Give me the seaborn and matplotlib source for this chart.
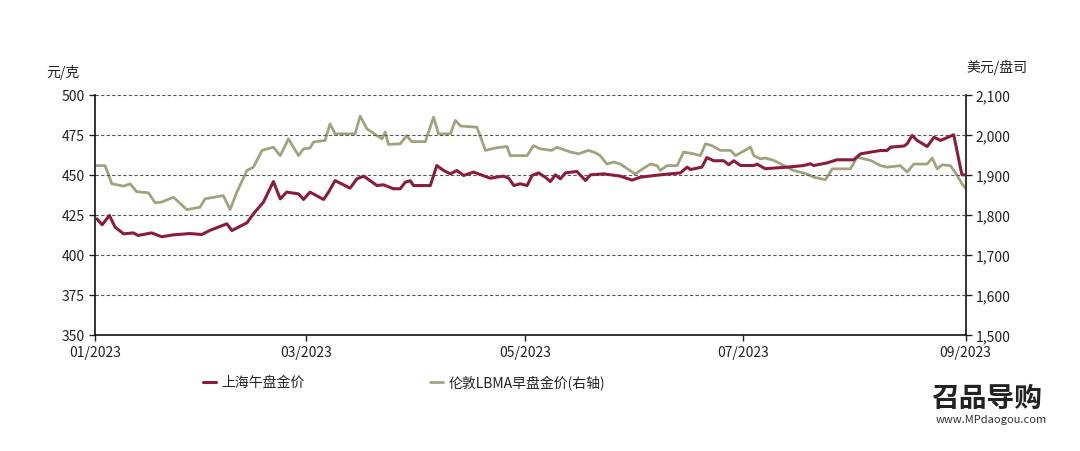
import numpy as np
import pandas as pd
import matplotlib
matplotlib.use("Agg")
import matplotlib.pyplot as plt
import seaborn as sns

sns.set_theme(style="white")
plt.rcParams['font.family'] = ['Noto Sans CJK SC', 'DejaVu Sans']

# day offsets from 2023-01-01
sh_days = [0.5, 2, 4, 5.6, 8, 10.7, 12, 15.8, 18.6, 21.9, 26.5, 29.8, 32, 36.8, 38.2, 42.4, 44.2, 47, 49.8, 51.7,
           53.5, 56.8, 58.2, 60, 63.8, 65.2, 67, 71.2, 73.1, 75, 78.7, 80.5, 83.3, 85.2, 86.6, 88, 88.9, 93.6, 95.4,
           97.3, 99.2, 101, 102.9, 105.7, 110.3, 114, 115.5, 116.9,
           118.7, 120.6, 122, 123.8, 125.7, 127.1, 128.5, 129.9, 131.3, 134.5, 136.9, 138.3, 142, 146.6, 149.9,
           152.2, 157.8, 163.4, 165.3, 166.2, 169.4, 170.8, 172.7, 175.5, 176.9, 178.3, 180.2, 183.9, 184.8, 187.1,
           189.5, 193.2, 197.8, 199.7, 200.6, 204.4, 207.1, 211.8, 213.7, 216.5, 219.3, 221.1, 222.1, 225.8, 226.7,
           228.1, 229.5, 232.3, 234.2, 236, 239.7, 242, 244.4]
sh_vals = [422.5, 418.8, 424.6, 417.3, 413.1, 413.7, 412.1, 413.7, 411.3, 412.5, 413.3, 412.7, 415.2, 419.4, 415.2,
           420, 425.6, 432.9, 445.8, 435, 439.2, 438.1, 434.6, 439.2, 434.6, 439.2, 446.4, 441.7, 447.5, 449.2, 443.3,
           443.8, 441.3, 441.3, 445.4, 446.3, 443.3, 443.3, 455.8, 452.7, 450.6, 452.7, 449.6, 451.7, 447.9, 449.2,
           447.9, 443.3,
           444.4, 443.3, 449.6, 451.2, 448.5, 445.8, 450, 447.5, 451.2, 452.1, 446.5, 450, 450.6, 449.2, 446.7,
           448.5, 450, 451.2, 454.8, 453.3, 454.8, 460.8, 458.8, 458.8, 456.3, 458.8, 455.8, 455.8, 456.7, 453.8,
           454.2, 454.8, 455.8, 456.9, 455.8, 457.5, 459.4, 459.4, 463.1, 464.2, 465.2, 465.2, 467.3, 468, 469.4,
           474.6, 471.5, 467.7, 473.5, 471.5, 475, 450, 450]

lb_days = [0.5, 2.8, 4.7, 8, 9.8, 11.6, 14.9, 16.8, 18.6, 21.9, 25.6, 29.3, 30.7, 35.8, 37.7, 39.6, 42.4, 44.2, 46.6,
           49.8, 51.7, 54, 56.8, 58.2, 60, 61, 64.2, 65.6, 67, 72.6, 74, 75.9, 78.7, 80.1, 81, 81.9, 85.2, 87, 88.4,
           92.2, 94.5, 95.9, 99.2, 100.6, 102, 106.6, 109, 111.7, 115, 115.9,
           118.7, 120.6, 122.4, 124.3, 127.5, 128.9, 132.7, 135, 136.4, 137.8, 139.7, 141, 142.9, 144.8, 146.6,
           150.8, 152.2, 155, 156.9, 157.8, 159.7, 162.5, 164.3, 167.1, 169, 170.4, 172.2, 174.6, 177.4, 178.8,
           183, 183.9, 185.7, 187.1, 189.5, 192.3, 195, 198.8, 200.6, 203.9, 205.8, 210.9, 212.7, 216.5, 219.3,
           221.1, 224.8, 226.7, 228.6, 232.3, 233.7, 235.1, 236.5, 238.8, 240.7, 242, 244.4]
lb_vals = [1923, 1923, 1877.5, 1871.7, 1877.5, 1858, 1855, 1830, 1832, 1844, 1813, 1819, 1840, 1848, 1813, 1857,
           1911, 1919, 1961, 1969, 1948, 1990, 1948, 1965, 1967, 1982, 1986, 2027.5, 2002.5, 2002.5, 2047, 2015,
           1998, 1990, 2007, 1976, 1977.5, 1998, 1983, 1983, 2044, 2002.5, 2002.5, 2036, 2022, 2019, 1961, 1967,
           1971, 1948,
           1948, 1948, 1973, 1965, 1961, 1969, 1957, 1952.5, 1957, 1961, 1955, 1948, 1927, 1932, 1927, 1902, 1911,
           1927, 1923, 1911, 1923, 1923, 1957, 1952.5, 1948, 1977.5, 1973, 1961, 1961, 1948, 1969, 1948, 1940,
           1942, 1936, 1923, 1911, 1902, 1894, 1888, 1915, 1915, 1944, 1936, 1923, 1919, 1923, 1907, 1927, 1927,
           1942, 1915, 1925, 1923, 1898, 1877.5, 1852]

tick_days = [0, 59, 120, 181, 243]
tick_labels = ["01/2023", "03/2023", "05/2023", "07/2023", "09/2023"]

red = "#8a1c3c"
green = "#a3a27e"

fig = plt.figure(figsize=(10.8, 4.52), dpi=100)
ax = fig.add_axes([0.088, 0.257, 0.806, 0.531])
ax2 = ax.twinx()

sns.lineplot(x=sh_days, y=sh_vals, ax=ax, color=red, lw=2.2, zorder=3)
sns.lineplot(x=lb_days, y=lb_vals, ax=ax2, color=green, lw=2.0, zorder=2)
ax.set_zorder(ax2.get_zorder() + 1)
ax.patch.set_visible(False)

ax.set_xlim(0, 243)
ax.set_ylim(350, 500)
ax2.set_ylim(1500, 2100)
ax.set_yticks(range(350, 501, 25))
ax2.set_yticks(range(1500, 2101, 100))
ax2.set_yticklabels([f"{v:,}" for v in range(1500, 2101, 100)])
ax.set_xticks(tick_days)
ax.set_xticklabels(tick_labels)
for y in range(375, 501, 25):
    ax.axhline(y, color="#555555", lw=0.8, ls=(0, (3, 2)), zorder=1)

for a in (ax, ax2):
    a.tick_params(axis="both", labelsize=10, colors="#222222", length=4, width=1, direction="out")
    for s in a.spines.values():
        s.set_visible(False)
ax.spines["left"].set_visible(True)
ax.spines["bottom"].set_visible(True)
ax2.spines["right"].set_visible(True)
for s in (ax.spines["left"], ax.spines["bottom"], ax2.spines["right"]):
    s.set_color("#111111"); s.set_linewidth(1.2)
ax.tick_params(axis="y", left=True)
ax2.tick_params(axis="y", right=True)
ax.tick_params(axis="x", bottom=True)
ax.set_xlabel(""); ax.set_ylabel(""); ax2.set_ylabel("")

fig.text(0.043, 0.83, "元/克", fontsize=10, color="#222222")
fig.text(0.895, 0.84, "美元/盘司", fontsize=10, color="#222222")

fig.add_artist(plt.Line2D([0.188, 0.2], [0.152, 0.152], color=red, lw=2.2))
fig.text(0.205, 0.152, "上海午盘金价", fontsize=10, va="center", color="#222222")
fig.add_artist(plt.Line2D([0.398, 0.41], [0.152, 0.152], color=green, lw=2.0))
fig.text(0.415, 0.152, "伦敦LBMA早盘金价(右轴)", fontsize=10, va="center", color="#222222")

fig.text(0.862, 0.1, "召品导购", fontsize=20, fontweight="bold", color="#222222")
fig.text(0.866, 0.065, "www.MPdaogou.com", fontsize=8, color="#333333")

fig.savefig("out.png", dpi=100)
